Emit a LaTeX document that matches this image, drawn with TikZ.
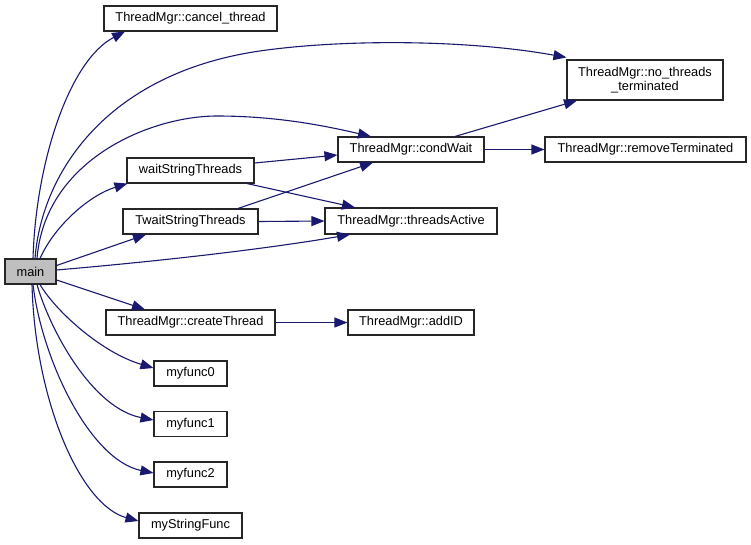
\documentclass[tikz,border=0pt]{standalone}
\usepackage{fontspec}
\setmainfont{Liberation Sans}
\usetikzlibrary{arrows.meta}
\definecolor{edgec}{HTML}{191970}
\definecolor{maingray}{HTML}{BFBFBF}
\begin{document}
\begin{tikzpicture}[x=1pt,y=-1pt,
  fn/.style={draw=black!85, line width=1.1pt, fill=white, inner sep=0pt, align=center,
    font=\fontsize{12.8}{14.5}\selectfont, minimum height=25pt},
  edge/.style={draw=edgec, line width=1.1pt, -{Triangle[length=13pt,width=10pt]}}]
\useasboundingbox (0,0) rectangle (751,544);
% nodes
\node[fn, fill=maingray, minimum width=51pt] (main) at (30.5,271.5) {main};
\node[fn, minimum width=173pt] (cancel) at (190.5,18.5) {ThreadMgr::cancel\_thread};
\node[fn, minimum width=156pt, minimum height=40pt] (nothr) at (645,80) {ThreadMgr::no\_threads\\\_terminated};
\node[fn, minimum width=146pt] (cond) at (411,149.5) {ThreadMgr::condWait};
\node[fn, minimum width=201pt] (remt) at (645.5,149.5) {ThreadMgr::removeTerminated};
\node[fn, minimum width=172pt, minimum height=26pt] (tact) at (411,221) {ThreadMgr::threadsActive};
\node[fn, minimum width=127pt] (wait) at (190.5,170.5) {waitStringThreads};
\node[fn, minimum width=135pt] (twait) at (190.5,221.5) {TwaitStringThreads};
\node[fn, minimum width=169pt] (create) at (190.5,322.5) {ThreadMgr::createThread};
\node[fn, minimum width=126pt] (addid) at (411,322.5) {ThreadMgr::addID};
\node[fn, minimum width=73pt] (f0) at (190.5,373.5) {myfunc0};
\node[fn, minimum width=73pt] (f1) at (190.5,424) {myfunc1};
\node[fn, minimum width=73pt] (f2) at (190.5,474.5) {myfunc2};
\node[fn, minimum width=103pt] (fs) at (190.5,525.5) {myStringFunc};
% edges from main
\draw[edge] ([xshift=2.5pt]main.north) .. controls (36,160) and (70,60) .. ([xshift=-65.5pt]cancel.south);
\draw[edge] ([xshift=4.5pt]main.north) .. controls (42,170) and (110,70) .. (267,50) .. controls (350,39) and (470,40) .. ([yshift=2pt]nothr.north west);
\draw[edge] ([xshift=6.5pt]main.north) .. controls (45,160) and (150,116) .. (217,116) .. controls (280,116) and (330,127) .. ([xshift=-40pt]cond.north);
\draw[edge] ([xshift=9.5pt]main.north) .. controls (55,225) and (90,195) .. ([xshift=1pt]wait.south west);
\draw[edge] ([yshift=6pt]main.east) -- ([xshift=-44.5pt]twait.south);
\draw[edge] ([yshift=1.5pt]main.east) .. controls (150,262) and (260,250) .. ([xshift=-61pt]tact.south);
\draw[edge] ([yshift=-8.5pt]main.east) -- ([xshift=-45.5pt]create.north);
\draw[edge] ([xshift=9.5pt]main.south) .. controls (55,310) and (100,352) .. ([yshift=5.5pt]f0.west);
\draw[edge] ([xshift=6.5pt]main.south) .. controls (50,330) and (92,408) .. ([yshift=4pt]f1.west);
\draw[edge] ([xshift=2.5pt]main.south) .. controls (42,360) and (90,460) .. ([yshift=1.5pt]f2.west);
\draw[edge] ([xshift=1.5pt]main.south) .. controls (35,400) and (80,505) .. ([yshift=4.5pt]fs.west);
% other edges
\draw[edge] ([yshift=7.5pt]wait.east) -- ([yshift=-5.5pt]cond.west);
\draw[edge] ([xshift=56.5pt]wait.south) -- ([xshift=-56pt]tact.north);
\draw[edge] ([xshift=47.5pt]twait.north) -- ([xshift=-38pt]cond.south);
\draw[edge] (twait.east) -- (tact.west);
\draw[edge] ([xshift=44pt]cond.north) -- ([xshift=-68pt]nothr.south);
\draw[edge] (cond.east) -- (remt.west);
\draw[edge] (create.east) -- (addid.west);
\end{tikzpicture}
\end{document}
